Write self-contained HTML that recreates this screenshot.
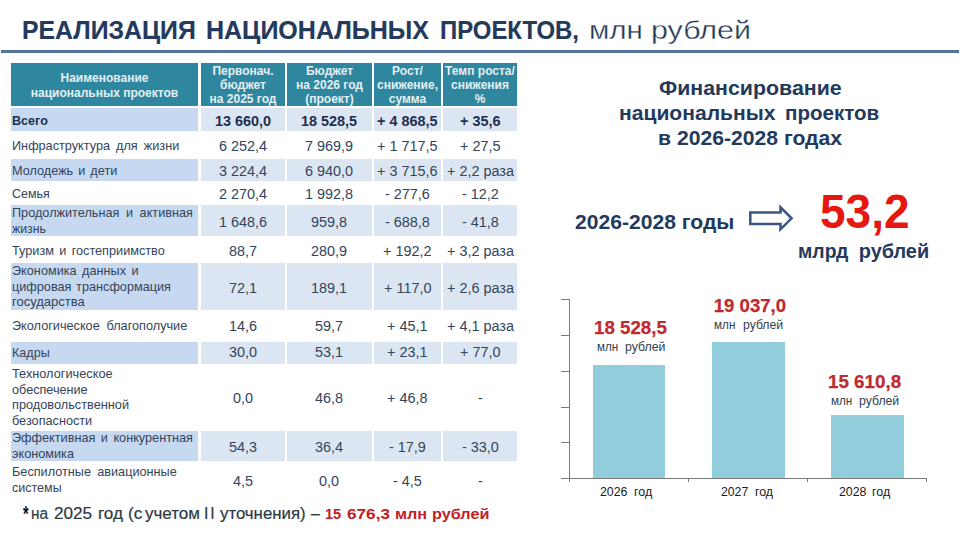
<!DOCTYPE html>
<html lang="ru"><head><meta charset="utf-8"><title>Реализация национальных проектов</title>
<style>
html,body{margin:0;padding:0;background:#fff;}
body{width:960px;height:540px;position:relative;overflow:hidden;font-family:"Liberation Sans",sans-serif;}
.t{position:absolute;white-space:pre;transform-origin:0 50%;}
.r{position:absolute;}
</style></head><body>
<div class="t" style="left:21.60px;top:17.00px;font-size:26.5px;line-height:26.5px;color:#233a5c;font-weight:bold;transform:scaleX(0.9357);-webkit-text-stroke:0.15px #233a5c;">РЕАЛИЗАЦИЯ</div>
<div class="t" style="left:206.00px;top:17.00px;font-size:26.5px;line-height:26.5px;color:#233a5c;font-weight:bold;transform:scaleX(0.9438);-webkit-text-stroke:0.15px #233a5c;">НАЦИОНАЛЬНЫХ</div>
<div class="t" style="left:439.50px;top:17.00px;font-size:26.5px;line-height:26.5px;color:#233a5c;font-weight:bold;transform:scaleX(0.9018);-webkit-text-stroke:0.15px #233a5c;">ПРОЕКТОВ,</div>
<div class="t" style="left:588.80px;top:17.00px;font-size:26.2px;line-height:26.2px;color:#21364f;transform:scaleX(1.1304);-webkit-text-stroke:0.35px #fff;">млн</div>
<div class="t" style="left:651.00px;top:17.00px;font-size:26.2px;line-height:26.2px;color:#21364f;transform:scaleX(1.1629);-webkit-text-stroke:0.35px #fff;">рублей</div>
<div class="r" style="left:1px;top:50px;width:958px;height:3px;background:#527598;"></div>
<div class="r" style="left:11px;top:63px;width:187px;height:43px;background:#2e879e;"></div>
<div class="r" style="left:201px;top:63px;width:84px;height:43px;background:#2e879e;"></div>
<div class="r" style="left:287px;top:63px;width:85px;height:43px;background:#2e879e;"></div>
<div class="r" style="left:374px;top:63px;width:67px;height:43px;background:#2e879e;"></div>
<div class="r" style="left:443px;top:63px;width:74px;height:43px;background:#2e879e;"></div>
<div class="t" style="left:60.48px;top:72.00px;font-size:12px;line-height:12px;color:#e4eff5;font-weight:bold;">Наименование</div>
<div class="t" style="left:30.78px;top:87.00px;font-size:12px;line-height:12px;color:#e4eff5;font-weight:bold;">национальных проектов</div>
<div class="t" style="left:212.45px;top:65.00px;font-size:12px;line-height:12px;color:#e4eff5;font-weight:bold;">Первонач.</div>
<div class="t" style="left:220.07px;top:79.00px;font-size:12px;line-height:12px;color:#e4eff5;font-weight:bold;">бюджет</div>
<div class="t" style="left:209.54px;top:93.00px;font-size:12px;line-height:12px;color:#e4eff5;font-weight:bold;">на 2025 год</div>
<div class="t" style="left:305.96px;top:65.00px;font-size:12px;line-height:12px;color:#e4eff5;font-weight:bold;">Бюджет</div>
<div class="t" style="left:296.04px;top:79.00px;font-size:12px;line-height:12px;color:#e4eff5;font-weight:bold;">на 2026 год</div>
<div class="t" style="left:305.27px;top:93.00px;font-size:12px;line-height:12px;color:#e4eff5;font-weight:bold;">(проект)</div>
<div class="t" style="left:392.12px;top:65.00px;font-size:12px;line-height:12px;color:#e4eff5;font-weight:bold;">Рост/</div>
<div class="t" style="left:377.02px;top:79.00px;font-size:12px;line-height:12px;color:#e4eff5;font-weight:bold;">снижение,</div>
<div class="t" style="left:388.77px;top:93.00px;font-size:12px;line-height:12px;color:#e4eff5;font-weight:bold;">сумма</div>
<div class="t" style="left:445.12px;top:65.00px;font-size:12px;line-height:12px;color:#e4eff5;font-weight:bold;">Темп роста/</div>
<div class="t" style="left:451.03px;top:79.00px;font-size:12px;line-height:12px;color:#e4eff5;font-weight:bold;">снижения</div>
<div class="t" style="left:474.67px;top:93.00px;font-size:12px;line-height:12px;color:#e4eff5;font-weight:bold;">%</div>
<div class="r" style="left:11px;top:107.8px;width:187px;height:23.200000000000003px;background:#c6d9f1;"></div>
<div class="r" style="left:201px;top:107.8px;width:84px;height:23.200000000000003px;background:#dce6f2;"></div>
<div class="r" style="left:287px;top:107.8px;width:85px;height:23.200000000000003px;background:#dce6f2;"></div>
<div class="r" style="left:374px;top:107.8px;width:67px;height:23.200000000000003px;background:#dce6f2;"></div>
<div class="r" style="left:443px;top:107.8px;width:74px;height:23.200000000000003px;background:#dce6f2;"></div>
<div class="t" style="left:12.00px;top:115.00px;font-size:12.7px;line-height:12.7px;color:#1f3050;font-weight:bold;transform:scaleX(0.9923);">Всего</div>
<div class="t" style="left:214.93px;top:114.00px;font-size:14px;line-height:14px;color:#1f3050;font-weight:bold;transform:scaleX(1.0300);">13 660,0</div>
<div class="t" style="left:301.43px;top:114.00px;font-size:14px;line-height:14px;color:#1f3050;font-weight:bold;transform:scaleX(1.0300);">18 528,5</div>
<div class="t" style="left:377.23px;top:114.00px;font-size:14px;line-height:14px;color:#1f3050;font-weight:bold;transform:scaleX(1.0300);">+ 4 868,5</div>
<div class="t" style="left:459.75px;top:114.00px;font-size:14px;line-height:14px;color:#1f3050;font-weight:bold;transform:scaleX(1.0300);">+ 35,6</div>
<div class="t" style="left:12.00px;top:140.00px;font-size:12.7px;line-height:12.7px;color:#34445a;word-spacing:2.49px;">Инфраструктура для жизни</div>
<div class="t" style="left:218.94px;top:139.00px;font-size:14px;line-height:14px;color:#34445a;transform:scaleX(1.0300);">6 252,4</div>
<div class="t" style="left:305.44px;top:139.00px;font-size:14px;line-height:14px;color:#34445a;transform:scaleX(1.0300);">7 969,9</div>
<div class="t" style="left:377.23px;top:139.00px;font-size:14px;line-height:14px;color:#34445a;transform:scaleX(1.0300);">+ 1 717,5</div>
<div class="t" style="left:459.75px;top:139.00px;font-size:14px;line-height:14px;color:#34445a;transform:scaleX(1.0300);">+ 27,5</div>
<div class="r" style="left:11px;top:159px;width:187px;height:22.30000000000001px;background:#c6d9f1;"></div>
<div class="r" style="left:201px;top:159px;width:84px;height:22.30000000000001px;background:#dce6f2;"></div>
<div class="r" style="left:287px;top:159px;width:85px;height:22.30000000000001px;background:#dce6f2;"></div>
<div class="r" style="left:374px;top:159px;width:67px;height:22.30000000000001px;background:#dce6f2;"></div>
<div class="r" style="left:443px;top:159px;width:74px;height:22.30000000000001px;background:#dce6f2;"></div>
<div class="t" style="left:12.00px;top:165.00px;font-size:12.7px;line-height:12.7px;color:#34445a;word-spacing:1.5px;">Молодежь и дети</div>
<div class="t" style="left:218.94px;top:164.00px;font-size:14px;line-height:14px;color:#34445a;transform:scaleX(1.0300);">3 224,4</div>
<div class="t" style="left:305.44px;top:164.00px;font-size:14px;line-height:14px;color:#34445a;transform:scaleX(1.0300);">6 940,0</div>
<div class="t" style="left:377.23px;top:164.00px;font-size:14px;line-height:14px;color:#34445a;transform:scaleX(1.0300);">+ 3 715,6</div>
<div class="t" style="left:446.51px;top:164.00px;font-size:14px;line-height:14px;color:#34445a;transform:scaleX(1.0300);">+ 2,2 раза</div>
<div class="t" style="left:12.00px;top:188.00px;font-size:12.7px;line-height:12.7px;color:#34445a;transform:scaleX(0.9802);">Семья</div>
<div class="t" style="left:218.94px;top:187.00px;font-size:14px;line-height:14px;color:#34445a;transform:scaleX(1.0300);">2 270,4</div>
<div class="t" style="left:305.44px;top:187.00px;font-size:14px;line-height:14px;color:#34445a;transform:scaleX(1.0300);">1 992,8</div>
<div class="t" style="left:385.05px;top:187.00px;font-size:14px;line-height:14px;color:#34445a;transform:scaleX(1.0300);">- 277,6</div>
<div class="t" style="left:461.56px;top:187.00px;font-size:14px;line-height:14px;color:#34445a;transform:scaleX(1.0300);">- 12,2</div>
<div class="r" style="left:11px;top:205.2px;width:187px;height:31.100000000000023px;background:#c6d9f1;"></div>
<div class="r" style="left:201px;top:205.2px;width:84px;height:31.100000000000023px;background:#dce6f2;"></div>
<div class="r" style="left:287px;top:205.2px;width:85px;height:31.100000000000023px;background:#dce6f2;"></div>
<div class="r" style="left:374px;top:205.2px;width:67px;height:31.100000000000023px;background:#dce6f2;"></div>
<div class="r" style="left:443px;top:205.2px;width:74px;height:31.100000000000023px;background:#dce6f2;"></div>
<div class="t" style="left:12.00px;top:207.00px;font-size:12.7px;line-height:12.7px;color:#34445a;word-spacing:3.05px;">Продолжительная и активная</div>
<div class="t" style="left:12.00px;top:223.00px;font-size:12.7px;line-height:12.7px;color:#34445a;transform:scaleX(0.9674);">жизнь</div>
<div class="t" style="left:218.94px;top:215.00px;font-size:14px;line-height:14px;color:#34445a;transform:scaleX(1.0300);">1 648,6</div>
<div class="t" style="left:311.46px;top:215.00px;font-size:14px;line-height:14px;color:#34445a;transform:scaleX(1.0300);">959,8</div>
<div class="t" style="left:385.05px;top:215.00px;font-size:14px;line-height:14px;color:#34445a;transform:scaleX(1.0300);">- 688,8</div>
<div class="t" style="left:461.56px;top:215.00px;font-size:14px;line-height:14px;color:#34445a;transform:scaleX(1.0300);">- 41,8</div>
<div class="t" style="left:12.00px;top:245.00px;font-size:12.7px;line-height:12.7px;color:#34445a;word-spacing:1.79px;">Туризм и гостеприимство</div>
<div class="t" style="left:228.97px;top:244.00px;font-size:14px;line-height:14px;color:#34445a;transform:scaleX(1.0300);">88,7</div>
<div class="t" style="left:311.46px;top:244.00px;font-size:14px;line-height:14px;color:#34445a;transform:scaleX(1.0300);">280,9</div>
<div class="t" style="left:383.24px;top:244.00px;font-size:14px;line-height:14px;color:#34445a;transform:scaleX(1.0300);">+ 192,2</div>
<div class="t" style="left:446.51px;top:244.00px;font-size:14px;line-height:14px;color:#34445a;transform:scaleX(1.0300);">+ 3,2 раза</div>
<div class="r" style="left:11px;top:263px;width:187px;height:46.80000000000001px;background:#c6d9f1;"></div>
<div class="r" style="left:201px;top:263px;width:84px;height:46.80000000000001px;background:#dce6f2;"></div>
<div class="r" style="left:287px;top:263px;width:85px;height:46.80000000000001px;background:#dce6f2;"></div>
<div class="r" style="left:374px;top:263px;width:67px;height:46.80000000000001px;background:#dce6f2;"></div>
<div class="r" style="left:443px;top:263px;width:74px;height:46.80000000000001px;background:#dce6f2;"></div>
<div class="t" style="left:12.00px;top:265.00px;font-size:12.7px;line-height:12.7px;color:#34445a;word-spacing:1.89px;">Экономика данных и</div>
<div class="t" style="left:12.00px;top:281.00px;font-size:12.7px;line-height:12.7px;color:#34445a;word-spacing:1.16px;">цифровая трансформация</div>
<div class="t" style="left:12.00px;top:296.00px;font-size:12.7px;line-height:12.7px;color:#34445a;transform:scaleX(1.0230);">государства</div>
<div class="t" style="left:228.97px;top:281.00px;font-size:14px;line-height:14px;color:#34445a;transform:scaleX(1.0300);">72,1</div>
<div class="t" style="left:311.46px;top:281.00px;font-size:14px;line-height:14px;color:#34445a;transform:scaleX(1.0300);">189,1</div>
<div class="t" style="left:383.78px;top:281.00px;font-size:14px;line-height:14px;color:#34445a;transform:scaleX(1.0300);">+ 117,0</div>
<div class="t" style="left:446.51px;top:281.00px;font-size:14px;line-height:14px;color:#34445a;transform:scaleX(1.0300);">+ 2,6 раза</div>
<div class="t" style="left:12.00px;top:320.00px;font-size:12.7px;line-height:12.7px;color:#34445a;word-spacing:3.27px;">Экологическое благополучие</div>
<div class="t" style="left:228.97px;top:319.00px;font-size:14px;line-height:14px;color:#34445a;transform:scaleX(1.0300);">14,6</div>
<div class="t" style="left:315.47px;top:319.00px;font-size:14px;line-height:14px;color:#34445a;transform:scaleX(1.0300);">59,7</div>
<div class="t" style="left:387.25px;top:319.00px;font-size:14px;line-height:14px;color:#34445a;transform:scaleX(1.0300);">+ 45,1</div>
<div class="t" style="left:446.51px;top:319.00px;font-size:14px;line-height:14px;color:#34445a;transform:scaleX(1.0300);">+ 4,1 раза</div>
<div class="r" style="left:11px;top:341.5px;width:187px;height:22.100000000000023px;background:#c6d9f1;"></div>
<div class="r" style="left:201px;top:341.5px;width:84px;height:22.100000000000023px;background:#dce6f2;"></div>
<div class="r" style="left:287px;top:341.5px;width:85px;height:22.100000000000023px;background:#dce6f2;"></div>
<div class="r" style="left:374px;top:341.5px;width:67px;height:22.100000000000023px;background:#dce6f2;"></div>
<div class="r" style="left:443px;top:341.5px;width:74px;height:22.100000000000023px;background:#dce6f2;"></div>
<div class="t" style="left:12.00px;top:347.00px;font-size:12.7px;line-height:12.7px;color:#34445a;transform:scaleX(0.9905);">Кадры</div>
<div class="t" style="left:228.97px;top:345.00px;font-size:14px;line-height:14px;color:#34445a;transform:scaleX(1.0300);">30,0</div>
<div class="t" style="left:315.47px;top:345.00px;font-size:14px;line-height:14px;color:#34445a;transform:scaleX(1.0300);">53,1</div>
<div class="t" style="left:387.25px;top:345.00px;font-size:14px;line-height:14px;color:#34445a;transform:scaleX(1.0300);">+ 23,1</div>
<div class="t" style="left:459.75px;top:345.00px;font-size:14px;line-height:14px;color:#34445a;transform:scaleX(1.0300);">+ 77,0</div>
<div class="t" style="left:12.00px;top:368.00px;font-size:12.7px;line-height:12.7px;color:#34445a;transform:scaleX(1.0052);">Технологическое</div>
<div class="t" style="left:12.00px;top:384.00px;font-size:12.7px;line-height:12.7px;color:#34445a;transform:scaleX(0.9964);">обеспечение</div>
<div class="t" style="left:12.00px;top:399.00px;font-size:12.7px;line-height:12.7px;color:#34445a;transform:scaleX(1.0049);">продовольственной</div>
<div class="t" style="left:12.00px;top:415.00px;font-size:12.7px;line-height:12.7px;color:#34445a;">безопасности</div>
<div class="t" style="left:232.98px;top:391.00px;font-size:14px;line-height:14px;color:#34445a;transform:scaleX(1.0300);">0,0</div>
<div class="t" style="left:315.47px;top:391.00px;font-size:14px;line-height:14px;color:#34445a;transform:scaleX(1.0300);">46,8</div>
<div class="t" style="left:387.25px;top:391.00px;font-size:14px;line-height:14px;color:#34445a;transform:scaleX(1.0300);">+ 46,8</div>
<div class="t" style="left:477.60px;top:391.00px;font-size:14px;line-height:14px;color:#34445a;transform:scaleX(1.0300);">-</div>
<div class="r" style="left:11px;top:431px;width:187px;height:30.19999999999999px;background:#c6d9f1;"></div>
<div class="r" style="left:201px;top:431px;width:84px;height:30.19999999999999px;background:#dce6f2;"></div>
<div class="r" style="left:287px;top:431px;width:85px;height:30.19999999999999px;background:#dce6f2;"></div>
<div class="r" style="left:374px;top:431px;width:67px;height:30.19999999999999px;background:#dce6f2;"></div>
<div class="r" style="left:443px;top:431px;width:74px;height:30.19999999999999px;background:#dce6f2;"></div>
<div class="t" style="left:12.00px;top:432.00px;font-size:12.7px;line-height:12.7px;color:#34445a;word-spacing:1.98px;">Эффективная и конкурентная</div>
<div class="t" style="left:12.00px;top:448.00px;font-size:12.7px;line-height:12.7px;color:#34445a;">экономика</div>
<div class="t" style="left:228.97px;top:440.00px;font-size:14px;line-height:14px;color:#34445a;transform:scaleX(1.0300);">54,3</div>
<div class="t" style="left:315.47px;top:440.00px;font-size:14px;line-height:14px;color:#34445a;transform:scaleX(1.0300);">36,4</div>
<div class="t" style="left:389.06px;top:440.00px;font-size:14px;line-height:14px;color:#34445a;transform:scaleX(1.0300);">- 17,9</div>
<div class="t" style="left:461.56px;top:440.00px;font-size:14px;line-height:14px;color:#34445a;transform:scaleX(1.0300);">- 33,0</div>
<div class="t" style="left:12.00px;top:466.00px;font-size:12.7px;line-height:12.7px;color:#34445a;word-spacing:2.68px;">Беспилотные авиационные</div>
<div class="t" style="left:12.00px;top:482.00px;font-size:12.7px;line-height:12.7px;color:#34445a;transform:scaleX(0.9863);">системы</div>
<div class="t" style="left:232.98px;top:474.00px;font-size:14px;line-height:14px;color:#34445a;transform:scaleX(1.0300);">4,5</div>
<div class="t" style="left:319.48px;top:474.00px;font-size:14px;line-height:14px;color:#34445a;transform:scaleX(1.0300);">0,0</div>
<div class="t" style="left:393.07px;top:474.00px;font-size:14px;line-height:14px;color:#34445a;transform:scaleX(1.0300);">- 4,5</div>
<div class="t" style="left:477.60px;top:474.00px;font-size:14px;line-height:14px;color:#34445a;transform:scaleX(1.0300);">-</div>
<div class="t" style="left:23.00px;top:503.00px;font-size:22px;line-height:22px;color:#111;font-weight:bold;transform:scaleX(0.6544);">*</div>
<div class="t" style="left:30.80px;top:506.00px;font-size:15.8px;line-height:15.8px;color:#2c3a44;transform:scaleX(0.9759);-webkit-text-stroke:0.2px #2c3a44;">на</div>
<div class="t" style="left:53.75px;top:506.00px;font-size:15.8px;line-height:15.8px;color:#2c3a44;transform:scaleX(1.0823);-webkit-text-stroke:0.2px #2c3a44;">2025</div>
<div class="t" style="left:97.75px;top:506.00px;font-size:15.8px;line-height:15.8px;color:#2c3a44;transform:scaleX(1.0838);-webkit-text-stroke:0.2px #2c3a44;">год</div>
<div class="t" style="left:127.50px;top:506.00px;font-size:15.8px;line-height:15.8px;color:#2c3a44;transform:scaleX(1.0941);-webkit-text-stroke:0.2px #2c3a44;">(с</div>
<div class="t" style="left:145.00px;top:506.00px;font-size:15.8px;line-height:15.8px;color:#2c3a44;transform:scaleX(1.0764);-webkit-text-stroke:0.2px #2c3a44;">учетом</div>
<div class="t" style="left:220.00px;top:506.00px;font-size:15.8px;line-height:15.8px;color:#2c3a44;transform:scaleX(1.0631);-webkit-text-stroke:0.2px #2c3a44;">уточнения)</div>
<div class="t" style="left:311.25px;top:506.00px;font-size:15.8px;line-height:15.8px;color:#2c3a44;transform:scaleX(0.9960);-webkit-text-stroke:0.2px #2c3a44;">–</div>
<div class="t" style="left:203.91px;top:506.00px;font-size:15.8px;line-height:15.8px;color:#2c3a44;-webkit-text-stroke:0.2px #2c3a44;">I</div>
<div class="t" style="left:210.21px;top:506.00px;font-size:15.8px;line-height:15.8px;color:#2c3a44;-webkit-text-stroke:0.2px #2c3a44;">I</div>
<div class="t" style="left:325.00px;top:506.00px;font-size:15.4px;line-height:15.4px;color:#c0201f;font-weight:bold;transform:scaleX(0.9489);">15</div>
<div class="t" style="left:346.90px;top:506.00px;font-size:15.4px;line-height:15.4px;color:#c0201f;font-weight:bold;transform:scaleX(1.1160);">676,3</div>
<div class="t" style="left:394.75px;top:506.00px;font-size:15.4px;line-height:15.4px;color:#c0201f;font-weight:bold;transform:scaleX(1.0549);">млн</div>
<div class="t" style="left:432.25px;top:506.00px;font-size:15.4px;line-height:15.4px;color:#c0201f;font-weight:bold;transform:scaleX(1.0547);">рублей</div>
<div class="t" style="left:658.75px;top:79.00px;font-size:19.8px;line-height:19.8px;color:#233a5c;font-weight:bold;transform:scaleX(1.0791);">Финансирование</div>
<div class="t" style="left:619.40px;top:104.00px;font-size:19.8px;line-height:19.8px;color:#233a5c;font-weight:bold;transform:scaleX(1.0652);">национальных</div>
<div class="t" style="left:784.70px;top:104.00px;font-size:19.8px;line-height:19.8px;color:#233a5c;font-weight:bold;transform:scaleX(1.0390);">проектов</div>
<div class="t" style="left:657.80px;top:129.00px;font-size:19.8px;line-height:19.8px;color:#233a5c;font-weight:bold;transform:scaleX(1.0692);">в 2026-2028 годах</div>
<div class="t" style="left:574.70px;top:212.00px;font-size:20px;line-height:20px;color:#233a5c;font-weight:bold;transform:scaleX(1.0550);">2026-2028 годы</div>
<div class="t" style="left:819.90px;top:188.00px;font-size:48px;line-height:48px;color:#e6170f;font-weight:bold;transform:scaleX(0.9582);">53,2</div>
<div class="t" style="left:797.50px;top:242.00px;font-size:19.9px;line-height:19.9px;color:#233a5c;font-weight:bold;transform:scaleX(0.9737);">млрд</div>
<div class="t" style="left:858.75px;top:242.00px;font-size:19.9px;line-height:19.9px;color:#233a5c;font-weight:bold;">рублей</div>
<svg class="r" style="left:745px;top:198px" width="54" height="40" viewBox="745 198 54 40"><path d="M750.3 212.5 H780.5 V207.3 L791.6 218.3 L780.5 229.3 V224 H750.3 Z" fill="#fff" stroke="#3a5680" stroke-width="2.5" stroke-linejoin="miter"/></svg>
<div class="r" style="left:569px;top:299px;width:1px;height:183px;background:#7c7c7c;"></div>
<div class="r" style="left:561px;top:299px;width:9px;height:1px;background:#7c7c7c;"></div>
<div class="r" style="left:561px;top:335px;width:9px;height:1px;background:#7c7c7c;"></div>
<div class="r" style="left:561px;top:371px;width:9px;height:1px;background:#7c7c7c;"></div>
<div class="r" style="left:561px;top:407px;width:9px;height:1px;background:#7c7c7c;"></div>
<div class="r" style="left:561px;top:442px;width:9px;height:1px;background:#7c7c7c;"></div>
<div class="r" style="left:561px;top:478px;width:9px;height:1px;background:#7c7c7c;"></div>
<div class="r" style="left:561px;top:478px;width:366px;height:1px;background:#7c7c7c;"></div>
<div class="r" style="left:688px;top:478px;width:1px;height:4px;background:#7c7c7c;"></div>
<div class="r" style="left:807px;top:478px;width:1px;height:4px;background:#7c7c7c;"></div>
<div class="r" style="left:926px;top:478px;width:1px;height:4px;background:#7c7c7c;"></div>
<div class="r" style="left:593px;top:365px;width:72px;height:113px;background:#92cddc;"></div>
<div class="r" style="left:712px;top:342px;width:73px;height:136px;background:#92cddc;"></div>
<div class="r" style="left:831px;top:415px;width:73px;height:63px;background:#92cddc;"></div>
<div class="t" style="left:594.20px;top:319.00px;font-size:18.6px;line-height:18.6px;color:#bf2a30;font-weight:bold;transform:scaleX(1.0068);-webkit-text-stroke:0.25px #bf2a30;">18 528,5</div>
<div class="t" style="left:596.70px;top:341.00px;font-size:12px;line-height:12px;color:#33414f;transform:scaleX(0.9691);">млн</div>
<div class="t" style="left:625.00px;top:341.00px;font-size:12px;line-height:12px;color:#33414f;transform:scaleX(1.0258);">рублей</div>
<div class="t" style="left:713.75px;top:297.00px;font-size:18.6px;line-height:18.6px;color:#bf2a30;font-weight:bold;-webkit-text-stroke:0.25px #bf2a30;">19 037,0</div>
<div class="t" style="left:714.40px;top:319.00px;font-size:12px;line-height:12px;color:#33414f;transform:scaleX(0.9782);">млн</div>
<div class="t" style="left:743.10px;top:319.00px;font-size:12px;line-height:12px;color:#33414f;transform:scaleX(1.0182);">рублей</div>
<div class="t" style="left:828.10px;top:373.00px;font-size:18.6px;line-height:18.6px;color:#bf2a30;font-weight:bold;transform:scaleX(1.0102);-webkit-text-stroke:0.25px #bf2a30;">15 610,8</div>
<div class="t" style="left:830.60px;top:395.00px;font-size:12px;line-height:12px;color:#33414f;transform:scaleX(0.9737);">млн</div>
<div class="t" style="left:859.20px;top:395.00px;font-size:12px;line-height:12px;color:#33414f;transform:scaleX(1.0207);">рублей</div>
<div class="t" style="left:600.00px;top:485.00px;font-size:13.3px;line-height:13.3px;color:#1a1a1a;transform:scaleX(0.9293);">2026</div>
<div class="t" style="left:633.75px;top:485.00px;font-size:13.3px;line-height:13.3px;color:#1a1a1a;transform:scaleX(0.9398);">год</div>
<div class="t" style="left:721.25px;top:485.00px;font-size:13.3px;line-height:13.3px;color:#1a1a1a;transform:scaleX(0.9208);">2027</div>
<div class="t" style="left:754.50px;top:485.00px;font-size:13.3px;line-height:13.3px;color:#1a1a1a;transform:scaleX(0.9321);">год</div>
<div class="t" style="left:839.00px;top:485.00px;font-size:13.3px;line-height:13.3px;color:#1a1a1a;transform:scaleX(0.9293);">2028</div>
<div class="t" style="left:872.20px;top:485.00px;font-size:13.3px;line-height:13.3px;color:#1a1a1a;transform:scaleX(0.9373);">год</div>
</body></html>
